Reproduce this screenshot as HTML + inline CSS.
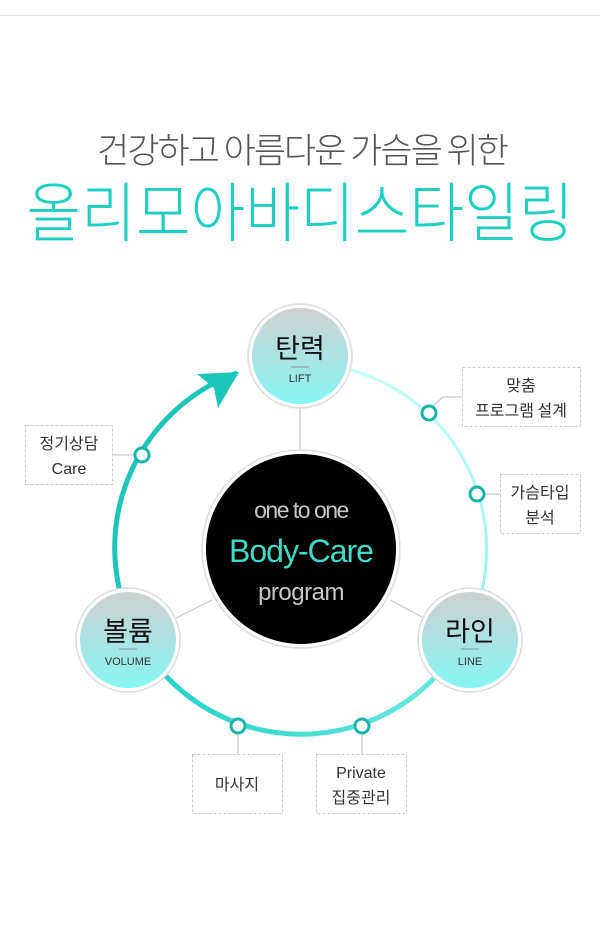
<!DOCTYPE html>
<html><head><meta charset="utf-8"><style>
html,body{margin:0;padding:0;background:#fff;width:600px;height:932px;overflow:hidden}
svg{display:block}
text{font-family:"Liberation Sans","Noto Sans CJK KR",sans-serif}
.k{font-family:"Noto Sans CJK KR","Liberation Sans",sans-serif}
</style></head><body>
<svg width="600" height="932" viewBox="0 0 600 932" xmlns="http://www.w3.org/2000/svg">
<defs>
<linearGradient id="ng" x1="0" y1="0" x2="0" y2="1">
<stop offset="0" stop-color="#cfd0d0"/><stop offset="1" stop-color="#86f6f4"/></linearGradient>
<linearGradient id="bg" x1="0" y1="0" x2="1" y2="0">
<stop offset="0" stop-color="#1fd0c4"/><stop offset="1" stop-color="#6eeae2"/></linearGradient>
<linearGradient id="rg" x1="0" y1="0" x2="0" y2="1">
<stop offset="0" stop-color="#c4fdfa"/><stop offset="1" stop-color="#8ff3ee"/></linearGradient>
</defs>
<line x1="0" y1="15.5" x2="600" y2="15.5" stroke="#dedede" stroke-width="1"/>
<text class="k" x="302" y="163" text-anchor="middle" font-size="35" letter-spacing="-2" fill="#555" font-weight="300">건강하고 아름다운 가슴을 위한</text>
<g transform="translate(300,236) scale(1.19,1.3)">
<text class="k" x="0" y="0" text-anchor="middle" font-size="50" fill="#1dcfc3" font-weight="300">올리모아바디스타일링</text></g>

<!-- ring -->
<path d="M 237 373 A 186 186 0 0 0 137 636" fill="none" stroke="#1cc6b8" stroke-width="5"/>
<path d="M 137 636 A 186 186 0 0 0 465 636" fill="none" stroke="url(#bg)" stroke-width="5"/>
<path d="M 301 363 A 186 186 0 0 1 465 636" fill="none" stroke="url(#rg)" stroke-width="3"/>
<polygon points="239,372 197,374 214,388 218,408" fill="#1cc6b8"/>

<!-- connectors -->
<g stroke="#c8c8c8" stroke-width="1.2" fill="none">
<line x1="300" y1="407" x2="300" y2="452"/>
<line x1="176" y1="618" x2="212" y2="600"/>
<line x1="424" y1="618" x2="390" y2="600"/>
<line x1="112" y1="455" x2="135" y2="455"/>
<polyline points="432,407 443,397 462,397"/>
<line x1="484" y1="494" x2="500" y2="494"/>
<line x1="238" y1="733" x2="238" y2="754"/>
<line x1="362" y1="733" x2="362" y2="754"/>
</g>
<g stroke="#c9c9c9" stroke-width="1" stroke-dasharray="3,2" fill="#fff">
<rect x="25.5" y="425.5" width="87" height="59"/>
<rect x="462.5" y="367.5" width="118" height="59"/>
<rect x="500.5" y="474.5" width="80" height="59"/>
<rect x="192.5" y="754.5" width="90" height="59"/>
<rect x="316.5" y="754.5" width="90" height="59"/>
</g>
<g font-size="16" fill="#333" text-anchor="middle" class="k">
<text class="k" x="69" y="449">정기상담</text><text x="69" y="474">Care</text>
<text class="k" x="521" y="391">맞춤</text><text class="k" x="521" y="416">프로그램 설계</text>
<text class="k" x="540" y="498">가슴타입</text><text class="k" x="540" y="523">분석</text>
<text class="k" x="237" y="790">마사지</text>
<text x="361" y="778">Private</text><text class="k" x="361" y="803">집중관리</text>
</g>
<g fill="#fff" stroke="#16b5a8" stroke-width="3">
<circle cx="142" cy="455" r="7"/><circle cx="429" cy="413" r="7"/><circle cx="477" cy="494" r="7"/>
<circle cx="238" cy="726" r="7"/><circle cx="362" cy="726" r="7"/>
</g>

<!-- center -->
<circle cx="301" cy="549" r="99" fill="#fff" stroke="#dcdcdc" stroke-width="1.5"/>
<circle cx="301" cy="549" r="95" fill="#000"/>
<text x="301" y="518" text-anchor="middle" font-size="23" letter-spacing="-1.5" fill="#c8c8c8">one to one</text>
<text x="301" y="562" text-anchor="middle" font-size="32" letter-spacing="-1" fill="#3fdccb">Body-Care</text>
<text x="301" y="600" text-anchor="middle" font-size="24" letter-spacing="-0.5" fill="#c8c8c8">program</text>

<!-- nodes -->
<g>
<circle cx="300" cy="356" r="52" fill="#fff" stroke="#dadada" stroke-width="1.5"/>
<circle cx="300" cy="356" r="48" fill="url(#ng)"/>
<text class="k" x="300" y="358" text-anchor="middle" font-size="27" fill="#111">탄력</text>
<line x1="291" y1="367" x2="309" y2="367" stroke="#777" stroke-width="0.7"/>
<text x="300" y="382" text-anchor="middle" font-size="11" fill="#333">LIFT</text>

<circle cx="128" cy="640" r="52" fill="#fff" stroke="#dadada" stroke-width="1.5"/>
<circle cx="128" cy="640" r="48" fill="url(#ng)"/>
<text class="k" x="128" y="641" text-anchor="middle" font-size="27" fill="#111">볼륨</text>
<line x1="119" y1="649" x2="137" y2="649" stroke="#777" stroke-width="0.7"/>
<text x="128" y="665" text-anchor="middle" font-size="11" fill="#333">VOLUME</text>

<circle cx="470" cy="640" r="52" fill="#fff" stroke="#dadada" stroke-width="1.5"/>
<circle cx="470" cy="640" r="48" fill="url(#ng)"/>
<text class="k" x="470" y="641" text-anchor="middle" font-size="27" fill="#111">라인</text>
<line x1="461" y1="649" x2="479" y2="649" stroke="#777" stroke-width="0.7"/>
<text x="470" y="665" text-anchor="middle" font-size="11" fill="#333">LINE</text>
</g>
</svg>
</body></html>
